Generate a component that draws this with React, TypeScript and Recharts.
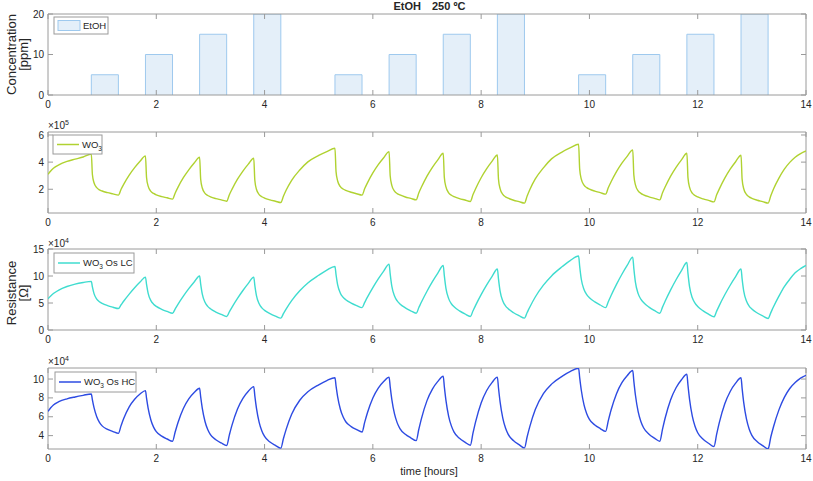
import React from 'react';
import { ComposedChart, Line, Area, XAxis, YAxis, ReferenceArea } from 'recharts';

// ---------- data ----------
const hours = [
  0, 0.05, 0.1, 0.2, 0.35, 0.5, 0.65, 0.8,
  0.82, 0.85, 0.9, 0.95, 1.0, 1.1, 1.2, 1.3,
  1.35, 1.4, 1.5, 1.6, 1.7, 1.8,
  1.82, 1.85, 1.9, 1.95, 2.0, 2.1, 2.2, 2.3,
  2.35, 2.4, 2.5, 2.6, 2.7, 2.8,
  2.82, 2.85, 2.9, 2.95, 3.0, 3.1, 3.2, 3.3,
  3.35, 3.4, 3.5, 3.6, 3.7, 3.8,
  3.82, 3.85, 3.9, 3.95, 4.0, 4.1, 4.2, 4.3,
  4.35, 4.4, 4.5, 4.65, 4.8, 5.0, 5.15, 5.3,
  5.32, 5.35, 5.4, 5.45, 5.5, 5.6, 5.7, 5.8,
  5.85, 5.9, 6.0, 6.1, 6.2, 6.3,
  6.32, 6.35, 6.4, 6.45, 6.5, 6.6, 6.7, 6.8,
  6.85, 6.9, 7.0, 7.1, 7.2, 7.3,
  7.32, 7.35, 7.4, 7.45, 7.5, 7.6, 7.7, 7.8,
  7.85, 7.9, 8.0, 8.1, 8.2, 8.3,
  8.32, 8.35, 8.4, 8.45, 8.5, 8.6, 8.7, 8.8,
  8.85, 8.9, 9.0, 9.15, 9.3, 9.5, 9.65, 9.8,
  9.82, 9.85, 9.9, 9.95, 10.0, 10.1, 10.2, 10.3,
  10.35, 10.4, 10.5, 10.6, 10.7, 10.8,
  10.82, 10.85, 10.9, 10.95, 11.0, 11.1, 11.2, 11.3,
  11.35, 11.4, 11.5, 11.6, 11.7, 11.8,
  11.82, 11.85, 11.9, 11.95, 12.0, 12.1, 12.2, 12.3,
  12.35, 12.4, 12.5, 12.6, 12.7, 12.8,
  12.82, 12.85, 12.9, 12.95, 13.0, 13.1, 13.2, 13.3,
  13.35, 13.4, 13.5, 13.6, 13.7, 13.8, 13.9, 14.0,
];

// WO3 resistance, x10^5 Ohm
const wo3 = [
  3.1, 3.35, 3.55, 3.8, 4.05, 4.22, 4.38, 4.6,
  3.09, 2.48, 2.12, 1.96, 1.87, 1.75, 1.66, 1.57,
  2.0, 2.38, 3.04, 3.59, 4.06, 4.46,
  2.87, 2.23, 1.84, 1.69, 1.59, 1.46, 1.37, 1.27,
  1.73, 2.14, 2.85, 3.43, 3.93, 4.36,
  2.74, 2.09, 1.7, 1.54, 1.44, 1.31, 1.22, 1.12,
  1.6, 2.01, 2.74, 3.34, 3.85, 4.29,
  2.66, 2.0, 1.61, 1.45, 1.35, 1.22, 1.12, 1.02,
  1.5, 1.94, 2.66, 3.42, 4.02, 4.5, 4.78, 5.02,
  3.3, 2.61, 2.19, 2.02, 1.92, 1.78, 1.67, 1.57,
  2.05, 2.47, 3.2, 3.81, 4.32, 4.77,
  3.0, 2.29, 1.86, 1.68, 1.58, 1.43, 1.33, 1.22,
  1.74, 2.18, 2.97, 3.62, 4.17, 4.65,
  2.88, 2.17, 1.74, 1.56, 1.46, 1.31, 1.21, 1.1,
  1.61, 2.06, 2.85, 3.5, 4.05, 4.53,
  2.76, 2.05, 1.62, 1.44, 1.34, 1.19, 1.09, 0.98,
  1.5, 1.98, 2.76, 3.58, 4.24, 4.76, 5.06, 5.32,
  3.48, 2.74, 2.3, 2.12, 2.01, 1.86, 1.75, 1.64,
  2.13, 2.55, 3.3, 3.92, 4.44, 4.9,
  3.06, 2.32, 1.88, 1.7, 1.59, 1.44, 1.33, 1.22,
  1.74, 2.18, 2.97, 3.62, 4.17, 4.65,
  2.86, 2.14, 1.71, 1.54, 1.43, 1.29, 1.18, 1.07,
  1.59, 2.03, 2.82, 3.48, 4.03, 4.51,
  2.75, 2.04, 1.62, 1.44, 1.33, 1.19, 1.09, 0.98,
  1.52, 2.02, 2.82, 3.48, 3.98, 4.36, 4.63, 4.82,
];

// WO3 Os LC resistance, x10^4 Ohm
const osLC = [
  5.8, 6.3, 6.75, 7.4, 8.05, 8.5, 8.8, 9.0,
  7.99, 6.74, 5.73, 5.23, 4.93, 4.52, 4.22, 3.97,
  4.67, 5.37, 6.65, 7.82, 8.87, 9.8,
  8.46, 6.79, 5.45, 4.78, 4.37, 3.84, 3.44, 3.1,
  3.93, 4.76, 6.27, 7.65, 8.9, 10.0,
  8.5, 6.63, 5.13, 4.38, 3.93, 3.33, 2.88, 2.5,
  3.38, 4.25, 5.86, 7.32, 8.63, 9.8,
  8.28, 6.38, 4.86, 4.1, 3.64, 3.04, 2.58, 2.2,
  3.06, 3.92, 5.45, 7.27, 8.71, 10.14, 11.1, 11.77,
  10.25, 8.34, 6.82, 6.06, 5.6, 4.99, 4.53, 4.15,
  5.12, 6.08, 7.85, 9.46, 10.91, 12.2,
  10.38, 8.11, 6.29, 5.38, 4.83, 4.1, 3.56, 3.1,
  4.16, 5.22, 7.17, 8.94, 10.53, 11.95,
  10.06, 7.7, 5.81, 4.86, 4.3, 3.54, 2.97, 2.5,
  3.56, 4.61, 6.55, 8.31, 9.89, 11.3,
  9.48, 7.21, 5.39, 4.48, 3.93, 3.2, 2.66, 2.2,
  3.24, 4.27, 6.11, 8.3, 10.02, 11.75, 12.9, 13.7,
  11.79, 9.4, 7.49, 6.54, 5.97, 5.2, 4.63, 4.15,
  5.27, 6.39, 8.45, 10.32, 12.0, 13.5,
  11.42, 8.82, 6.74, 5.7, 5.08, 4.24, 3.62, 3.1,
  4.23, 5.36, 7.42, 9.3, 11.0, 12.5,
  10.49, 7.97, 5.96, 4.96, 4.35, 3.55, 2.94, 2.44,
  3.5, 4.57, 6.52, 8.29, 9.88, 11.3,
  9.47, 7.18, 5.35, 4.43, 3.88, 3.15, 2.6, 2.14,
  3.22, 4.3, 6.26, 8.03, 9.4, 10.58, 11.36, 11.95,
];

// WO3 Os HC resistance, x10^4 Ohm
const osHC = [
  6.56, 6.95, 7.25, 7.6, 7.9, 8.1, 8.27, 8.42,
  7.79, 6.96, 6.0, 5.41, 5.03, 4.66, 4.43, 4.24,
  5.06, 5.83, 7.05, 7.86, 8.41, 8.77,
  7.97, 6.89, 5.66, 4.9, 4.42, 3.94, 3.64, 3.4,
  4.41, 5.37, 6.88, 7.9, 8.57, 9.02,
  8.11, 6.9, 5.5, 4.65, 4.1, 3.56, 3.22, 2.95,
  4.08, 5.14, 6.83, 7.95, 8.7, 9.2,
  8.22, 6.92, 5.41, 4.5, 3.91, 3.32, 2.96, 2.67,
  3.72, 4.69, 6.26, 7.75, 8.65, 9.39, 9.84, 10.14,
  9.28, 8.12, 6.8, 5.99, 5.47, 4.96, 4.64, 4.38,
  5.43, 6.42, 7.99, 9.04, 9.73, 10.2,
  9.19, 7.85, 6.3, 5.35, 4.75, 4.14, 3.77, 3.47,
  4.7, 5.86, 7.71, 8.93, 9.75, 10.3,
  9.2, 7.74, 6.05, 5.03, 4.37, 3.71, 3.31, 2.98,
  4.28, 5.51, 7.46, 8.76, 9.62, 10.2,
  9.08, 7.58, 5.85, 4.8, 4.13, 3.45, 3.04, 2.7,
  3.88, 4.98, 6.76, 8.45, 9.46, 10.31, 10.81, 11.15,
  10.15, 8.81, 7.26, 6.33, 5.72, 5.12, 4.75, 4.45,
  5.61, 6.71, 8.45, 9.61, 10.38, 10.9,
  9.78, 8.28, 6.55, 5.5, 4.83, 4.15, 3.74, 3.4,
  4.68, 5.89, 7.8, 9.08, 9.93, 10.5,
  9.35, 7.82, 6.06, 4.99, 4.3, 3.61, 3.19, 2.84,
  4.15, 5.4, 7.37, 8.68, 9.56, 10.14,
  9.01, 7.5, 5.77, 4.71, 4.03, 3.35, 2.94, 2.6,
  3.85, 4.94, 6.73, 8.06, 9.0, 9.62, 10.09, 10.4,
];

// EtOH pulses
const pulseStart = [0.8, 1.8, 2.8, 3.8, 5.3, 6.3, 7.3, 8.3, 9.8, 10.8, 11.8, 12.8];
const pulseEnd = [1.3, 2.3, 3.3, 4.3, 5.8, 6.8, 7.8, 8.8, 10.3, 11.3, 12.3, 13.3];
const pulseConc = [5, 10, 15, 20, 5, 10, 15, 20, 5, 10, 15, 20];

// ticks
const xTicks = [0, 2, 4, 6, 8, 10, 12, 14];
const concTicks = [0, 10, 20];
const wo3Ticks = [2, 4, 6];
const lcTicks = [0, 5, 10, 15];
const hcTicks = [4, 6, 8, 10];

// ---------- tables ----------
const resData = hours.map((t, i) => ({ t, wo3: wo3[i], lc: osLC[i], hc: osHC[i] }));
const barData = pulseStart.flatMap((s, i) => [
  { t: s, c: 0 },
  { t: s, c: pulseConc[i] },
  { t: pulseEnd[i], c: pulseConc[i] },
  { t: pulseEnd[i], c: 0 },
  { t: pulseEnd[i], c: null },
]);

// ---------- style ----------
const W = 813;
const PH = 81;
const MT = 4;
const MB = 22;
const YW = 48;
const MR = 7;
const PL = YW;
const PR = W - MR;
const AX = '#9a9a9a';
const TXT = '#262626';
const FONT = "'Liberation Sans', Arial, Helvetica, sans-serif";
const C_WO3 = '#b0d231';
const C_LC = '#3fdccf';
const C_HC = '#2d4be2';
const BAR_FILL = '#e4eff9';
const BAR_STROKE = '#9ec9ee';

type PanelProps = {
  top: number;
  data: any[];
  domain: [number, number];
  yTicks: number[];
  children?: React.ReactNode;
};

function Panel({ top, data, domain, yTicks, children }: PanelProps) {
  const pt = MT;
  const pb = MT + PH;
  const XTick = (p: any) => (
    <g>
      <line x1={p.x} x2={p.x} y1={pb} y2={pb - 5} stroke={AX} />
      <line x1={p.x} x2={p.x} y1={pt} y2={pt + 5} stroke={AX} />
      <text x={p.x} y={pb + 12.5} textAnchor="middle" fontSize={10} fill={TXT} fontFamily={FONT}>
        {p.payload.value}
      </text>
    </g>
  );
  const YTick = (p: any) => (
    <g>
      <line x1={PL} x2={PL + 5} y1={p.y} y2={p.y} stroke={AX} />
      <line x1={PR} x2={PR - 5} y1={p.y} y2={p.y} stroke={AX} />
      <text x={PL - 4} y={p.y + 3.6} textAnchor="end" fontSize={10} fill={TXT} fontFamily={FONT}>
        {p.payload.value}
      </text>
    </g>
  );
  return (
    <div style={{ position: 'absolute', left: 0, top: top - MT }}>
      <ComposedChart
        width={W}
        height={MT + PH + MB}
        data={data}
        margin={{ top: MT, right: MR, bottom: 0, left: 0 }}
      >
        <XAxis
          dataKey="t"
          type="number"
          domain={[0, 14]}
          ticks={xTicks}
          interval={0}
          tick={XTick}
          tickLine={false}
          axisLine={false}
          height={MB}
          allowDataOverflow
        />
        <YAxis
          type="number"
          domain={domain}
          ticks={yTicks}
          interval={0}
          tick={YTick}
          tickLine={false}
          axisLine={false}
          width={YW}
          allowDataOverflow
        />
        {children}
        <ReferenceArea
          x1={0}
          x2={14}
          y1={domain[0]}
          y2={domain[1]}
          fill="none"
          fillOpacity={0}
          stroke={AX}
          strokeOpacity={1}
          ifOverflow="visible"
        />
      </ComposedChart>
    </div>
  );
}

function LegendBox({ x, y, w, h, kind, color, label, sub, rest }: any) {
  const cy = y + h / 2;
  return (
    <g>
      <rect x={x} y={y} width={w} height={h} fill="#fff" stroke={AX} />
      {kind === 'patch' ? (
        <rect x={x + 4} y={cy - 5} width={22} height={10} fill={BAR_FILL} stroke={BAR_STROKE} />
      ) : (
        <line x1={x + 4} x2={x + 26} y1={cy} y2={cy} stroke={color} strokeWidth={1.5} />
      )}
      <text x={x + 29} y={cy + 3.4} fontSize={9.5} fill={TXT} fontFamily={FONT}>
        {label}
        {sub ? (
          <tspan fontSize={6.5} dy={3}>
            {sub}
          </tspan>
        ) : null}
        {rest ? <tspan dy={sub ? -3 : 0}>{rest}</tspan> : null}
      </text>
    </g>
  );
}

function Exponent({ x, y, p }: any) {
  return (
    <text x={x} y={y} fontSize={10} fill={TXT} fontFamily={FONT}>
      {'\u00d710'}
      <tspan fontSize={7} dy={-4}>
        {p}
      </tspan>
    </text>
  );
}

export default function App() {
  return (
    <div style={{ position: 'absolute', left: 0, top: 0, width: W, height: 481, background: '#fff' }}>
      <Panel top={14} data={barData} domain={[0, 20]} yTicks={concTicks}>
        <Area
          type="linear"
          dataKey="c"
          fill={BAR_FILL}
          fillOpacity={1}
          stroke={BAR_STROKE}
          strokeWidth={1}
          connectNulls={false}
          isAnimationActive={false}
          dot={false}
          activeDot={false}
        />
      </Panel>
      <Panel top={132} data={resData} domain={[0.25, 6.22]} yTicks={wo3Ticks}>
        <Line type="monotone" dataKey="wo3" stroke={C_WO3} strokeWidth={1.4} dot={false} activeDot={false} isAnimationActive={false} />
      </Panel>
      <Panel top={249} data={resData} domain={[0, 15]} yTicks={lcTicks}>
        <Line type="monotone" dataKey="lc" stroke={C_LC} strokeWidth={1.4} dot={false} activeDot={false} isAnimationActive={false} />
      </Panel>
      <Panel top={368} data={resData} domain={[2.58, 11.17]} yTicks={hcTicks}>
        <Line type="monotone" dataKey="hc" stroke={C_HC} strokeWidth={1.4} dot={false} activeDot={false} isAnimationActive={false} />
      </Panel>

      <svg
        width={W}
        height={481}
        style={{ position: 'absolute', left: 0, top: 0, pointerEvents: 'none' }}
      >
        <text x={421} y={10} textAnchor="end" fontSize={11} fontWeight="bold" fill={TXT} fontFamily={FONT}>
          EtOH
        </text>
        <text x={432} y={10} textAnchor="start" fontSize={11} fontWeight="bold" fill={TXT} fontFamily={FONT}>
          250 ºC
        </text>

        <text transform="translate(15.5,54.5) rotate(-90)" textAnchor="middle" fontSize={13} fill={TXT} fontFamily={FONT}>
          Concentration
        </text>
        <text transform="translate(27.5,54.5) rotate(-90)" textAnchor="middle" fontSize={13} fill={TXT} fontFamily={FONT}>
          [ppm]
        </text>
        <text transform="translate(15.5,293) rotate(-90)" textAnchor="middle" fontSize={13} fill={TXT} fontFamily={FONT}>
          Resistance
        </text>
        <text transform="translate(27.5,293) rotate(-90)" textAnchor="middle" fontSize={13} fill={TXT} fontFamily={FONT}>
          [Ω]
        </text>

        <Exponent x={48} y={129} p="5" />
        <Exponent x={48} y={246.5} p="4" />
        <Exponent x={48} y={365} p="4" />

        <LegendBox x={54} y={17} w={54} h={17} kind="patch" label="EtOH" />
        <LegendBox x={53} y={135} w={49} h={19} kind="line" color={C_WO3} label="WO" sub="3" />
        <LegendBox x={54} y={253} w={80} h={20} kind="line" color={C_LC} label="WO" sub="3" rest=" Os LC" />
        <LegendBox x={55} y={372} w={81} h={20} kind="line" color={C_HC} label="WO" sub="3" rest=" Os HC" />

        <text x={429} y={475} textAnchor="middle" fontSize={11} fill={TXT} fontFamily={FONT}>
          time [hours]
        </text>
      </svg>
    </div>
  );
}
